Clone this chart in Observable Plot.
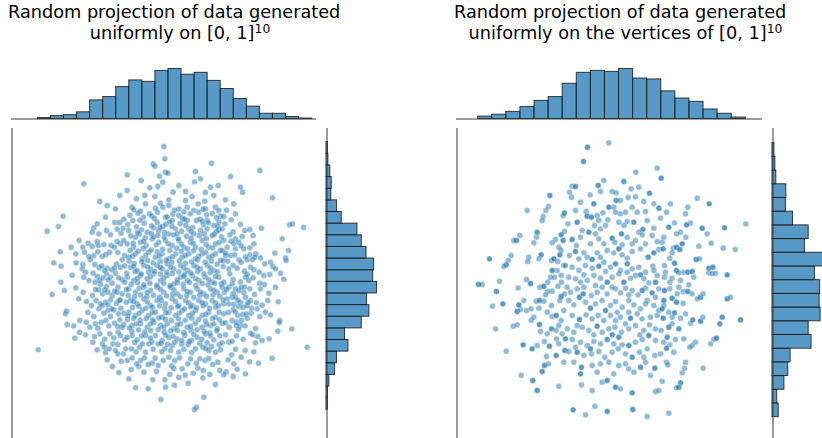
<!DOCTYPE html>
<html><head><meta charset="utf-8">
<script src="https://cdn.jsdelivr.net/npm/d3@7"></script>
<script src="https://cdn.jsdelivr.net/npm/@observablehq/plot@0.6"></script>
<style>
body{margin:0;background:#fff;}
#root{position:relative;width:822px;height:438px;overflow:hidden;background:#fff;font-family:"DejaVu Sans",sans-serif;}
.title{position:absolute;white-space:nowrap;font-size:17.7px;line-height:21.2px;color:#000;transform:translateX(-50%);}
.sup{position:relative;top:-0.5em;font-size:0.7em;}
.panel{position:absolute;}
.panel svg{max-width:none !important;}
</style></head><body><div id="root"></div>
<script>
// ---------- titles ----------
const titleLine1 = "Random projection of data generated";
const cubeTitle2 = "uniformly on [0, 1]";
const vertexTitle2 = "uniformly on the vertices of [0, 1]";
const dimension = "10";

// ---------- left: uniform on the cube, projected (arbitrary units) ----------
const cubePoints = [
[16.0,-13.0],[26.8,-16.5],[20.8,-18.3],[9.8,-22.7],[8.4,-25.8],[5.0,-27.2],[19.0,-26.2],[20.0,-25.0],[18.5,-27.5],[25.3,-24.6],[26.8,-24.6],[27.8,-26.3],[26.0,-26.6],[24.0,-28.3],[14.6,-30.0],[17.3,-30.8],[15.7,-32.0],[20.0,-30.3],[20.3,-31.5],[12.2,-32.0],[13.6,-34.0],[8.9,-33.4],[16.2,-33.5],[19.0,-34.5],[21.5,-34.8],[23.7,-33.5],[24.2,-31.5],[25.2,-32.0],[27.0,-31.0],[28.0,-30.0],[7.0,-36.7],[9.2,-37.7],[13.7,-36.7],[15.7,-37.2],[18.0,-35.7],[15.5,-38.5],[16.5,-39.5],[20.6,-38.2],[21.4,-37.6],[23.0,-38.3],[24.4,-38.8],[25.8,-37.0],[27.5,-35.8],[28.2,-34.5],[27.0,-38.0],[12.5,-40.4],[16.0,-41.0],[18.8,-39.8],[20.0,-40.8],[21.8,-41.2],[22.8,-40.0],[24.0,-41.0],[25.5,-39.8],[9.1,-42.5],[13.6,-44.2],[19.4,-42.5],[21.0,-43.2],[22.8,-43.8],[24.5,-42.8],[26.2,-44.0],[27.5,-41.8],[10.2,-45.0],[6.5,-46.2],[14.5,-47.5],[18.6,-46.5],[20.5,-44.8],[21.6,-46.0],[23.2,-45.5],[24.5,-46.5],[26.0,-45.5],[27.5,-46.0],[19.7,-48.0],[21.0,-49.0],[22.5,-48.5],[24.0,-47.8],[25.8,-48.8],[27.0,-47.8],[10.5,-52.0],[10.8,-51.2],[19.0,-52.8],[20.5,-50.5],[21.5,-49.5],[23.2,-51.0],[25.0,-50.8],[26.4,-52.0],[28.0,-51.8],[11.0,-55.2],[14.8,-54.0],[16.7,-54.5],[19.5,-55.0],[21.2,-54.5],[22.6,-54.0],[24.0,-52.8],[25.2,-54.8],[26.8,-53.8],[28.0,-55.2],[14.7,-57.5],[13.3,-59.3],[20.8,-58.0],[23.8,-58.0],[26.3,-57.5],[27.5,-56.0],[18.7,-60.5],[21.6,-61.0],[22.2,-62.0],[24.7,-61.0],[26.2,-61.2],[28.3,-59.8],[2.3,-62.8],[22.5,-63.6],[26.2,-64.0],[27.9,-64.0],[24.6,-67.8],
[40.0,-1.8],[36.8,-7.0],[37.3,-7.7],[40.3,-5.5],[38.7,-10.7],[40.5,-9.5],[41.2,-9.8],[39.7,-12.5],[38.2,-13.8],[33.2,-12.0],[29.0,-10.3],[54.3,-6.8],[49.5,-9.3],[49.2,-12.4],[51.0,-11.5],[54.0,-14.0],[56.3,-13.5],[42.8,-15.5],[48.5,-16.8],[46.5,-18.0],[34.3,-16.5],[37.3,-16.8],[52.3,-18.2],[55.0,-16.5],[50.3,-19.0],[29.0,-15.0],[30.5,-20.0],[34.5,-19.0],[39.0,-18.8],[39.7,-20.0],[41.5,-19.5],[44.5,-20.5],[47.0,-20.0],[49.0,-21.0],[50.5,-21.5],[52.5,-20.5],[55.5,-20.0],[56.5,-21.0],[30.7,-24.0],[35.7,-22.0],[38.0,-24.5],[40.5,-23.0],[42.5,-24.0],[44.5,-22.5],[47.0,-24.0],[49.8,-24.0],[53.0,-24.0],[55.0,-25.5],[56.5,-24.5],[29.5,-27.0],[31.5,-29.0],[33.3,-26.8],[35.0,-27.5],[37.0,-26.2],[38.5,-27.0],[39.7,-25.8],[41.5,-28.0],[43.5,-26.5],[45.3,-27.2],[47.5,-26.5],[49.0,-28.0],[51.0,-27.0],[53.0,-26.5],[54.5,-28.5],[56.5,-26.8],[29.0,-31.0],[31.0,-32.0],[33.0,-30.5],[34.7,-31.5],[36.5,-29.5],[38.5,-30.5],[40.5,-30.0],[42.5,-31.5],[44.5,-30.0],[46.0,-32.0],[48.0,-30.5],[49.5,-32.0],[51.5,-30.0],[53.5,-32.0],[55.5,-31.0],[29.5,-35.0],[31.5,-34.0],[33.5,-35.5],[35.5,-33.5],[37.5,-35.0],[39.5,-34.0],[41.5,-35.5],[43.5,-34.0],[45.5,-35.0],[47.5,-34.0],[49.5,-35.5],[51.5,-34.0],[53.5,-35.0],[55.5,-34.0],[57.0,-36.0],[30.0,-38.0],[32.0,-39.0],[34.0,-37.5],[36.0,-38.5],[38.0,-37.5],[39.5,-38.5],[41.0,-37.0],[43.0,-38.5],[45.0,-37.5],[47.0,-39.0],[49.0,-37.5],[51.0,-38.5],[53.0,-37.5],[55.0,-39.0],[29.0,-41.0],[31.0,-42.0],[33.0,-40.5],[35.0,-41.5],[37.0,-40.0],[39.0,-42.0],[41.0,-40.5],[43.0,-43.0],[45.0,-41.0],[47.0,-42.0],[48.5,-40.5],[50.5,-42.0],[52.5,-41.0],[54.5,-42.5],[56.5,-41.0],[29.5,-44.5],[31.5,-45.5],[34.0,-44.0],[36.0,-45.0],[38.0,-44.0],[40.0,-45.5],[42.0,-44.0],[44.0,-46.0],[46.0,-44.5],[48.0,-45.5],[50.0,-44.5],[52.0,-46.0],[54.0,-44.5],[56.0,-45.5],[30.0,-48.0],[32.0,-49.0],[34.0,-47.5],[36.0,-49.5],[38.0,-48.0],[40.5,-49.0],[42.5,-47.5],[44.5,-49.5],[46.5,-48.0],[48.5,-49.5],[50.5,-48.0],[52.5,-49.0],[54.5,-48.0],[56.5,-49.5],[29.5,-51.5],[31.5,-52.5],[33.5,-51.0],[35.5,-52.5],[37.5,-51.5],[39.5,-53.0],[41.5,-51.5],[43.5,-52.5],[45.5,-51.0],[47.5,-52.5],[49.5,-51.0],[51.5,-52.5],[53.5,-51.5],[55.5,-53.0],[30.5,-55.5],[33.0,-55.0],[35.0,-56.0],[37.0,-54.5],[39.0,-55.5],[41.0,-55.0],[43.0,-56.5],[45.0,-55.0],[47.0,-56.0],[49.5,-54.8],[51.5,-56.0],[54.0,-55.5],[56.0,-56.5],[29.0,-59.0],[32.0,-59.8],[34.5,-58.5],[37.5,-58.5],[39.5,-60.0],[41.5,-59.0],[44.0,-59.5],[46.3,-58.5],[48.3,-60.0],[50.0,-59.0],[52.5,-58.0],[55.0,-59.8],[30.3,-62.5],[32.7,-62.0],[35.5,-61.0],[38.3,-61.0],[40.3,-62.5],[42.5,-61.5],[44.5,-63.5],[47.3,-61.2],[49.5,-62.5],[51.7,-62.0],[53.5,-63.0],[55.5,-63.5],[34.5,-63.5],[33.0,-66.0],[35.3,-67.2],[36.5,-66.8],[38.3,-67.5],[41.5,-65.0],[43.3,-66.0],[45.5,-68.5],[48.0,-65.5],[49.8,-66.8],[52.3,-66.0],[54.7,-67.2],[32.5,-67.8],[29.0,-66.0],[29.5,-71.5],[36.7,-71.8],[40.3,-71.8],[40.5,-74.0],[44.5,-71.0],[48.8,-69.8],[51.8,-69.0],[47.3,-72.8],[51.7,-71.2],[35.3,-74.5],[39.1,-77.7],[52.0,-77.0],[49.8,-80.0],[49.2,-80.7],
[29.8,-22.4],[32.2,-21.8],[33.9,-23.0],[36.4,-22.6],[38.1,-21.5],[41.0,-22.9],[42.7,-22.1],[45.6,-23.3],[47.9,-22.0],[50.8,-23.6],[52.9,-22.3],[54.6,-21.9],[57.0,-22.7],
[29.2,-25.2],[31.8,-25.9],[34.1,-24.8],[36.3,-25.6],[38.9,-26.0],[40.6,-25.1],[42.4,-25.7],[44.9,-24.9],[46.6,-25.4],[48.7,-26.1],[51.9,-25.3],[53.4,-24.7],[56.2,-25.8],
[30.1,-28.6],[32.6,-28.1],[34.4,-29.2],[36.9,-28.9],[38.2,-28.4],[40.1,-29.0],[42.9,-28.3],[44.3,-29.5],[46.8,-28.7],[48.2,-29.3],[50.6,-28.5],[52.7,-29.4],[55.1,-28.2],[57.3,-28.9],
[29.9,-32.9],[32.3,-33.2],[33.8,-32.4],[36.2,-32.8],[38.0,-33.4],[39.6,-32.6],[41.8,-33.0],[43.9,-32.3],[45.2,-33.3],[47.1,-32.5],[48.9,-33.1],[51.2,-32.7],[52.6,-33.5],[54.7,-32.2],[56.9,-33.0],
[29.6,-36.2],[31.1,-36.9],[33.4,-36.4],[35.1,-36.0],[36.8,-36.7],[38.9,-36.3],[40.7,-35.9],[42.4,-36.6],[44.6,-36.1],[46.5,-36.8],[48.3,-36.4],[50.1,-35.8],[52.4,-36.5],[54.3,-36.2],[56.0,-37.1],
[28.9,-39.8],[31.4,-39.3],[33.2,-40.0],[35.4,-39.6],[37.2,-39.2],[39.0,-40.1],[40.9,-39.5],[42.6,-39.9],[44.5,-39.4],[46.2,-40.2],[48.1,-39.7],[50.2,-39.3],[52.0,-40.0],[53.9,-39.6],[56.1,-39.4],
[30.2,-43.1],[32.1,-42.6],[34.0,-43.3],[35.8,-42.8],[37.9,-43.4],[40.0,-42.9],[41.9,-43.6],[44.0,-42.7],[45.8,-43.2],[47.7,-42.5],[49.6,-43.5],[51.5,-42.9],[53.2,-43.3],[55.3,-42.8],[57.2,-43.0],
[29.3,-46.5],[31.2,-46.9],[33.0,-46.3],[34.9,-46.8],[36.9,-46.4],[38.8,-47.0],[40.9,-46.6],[42.7,-46.2],[45.0,-46.9],[46.9,-46.5],[49.0,-47.1],[50.8,-46.4],[52.8,-46.8],[54.8,-46.3],[56.8,-46.7],
[30.6,-50.1],[32.5,-49.7],[34.6,-50.3],[36.6,-50.0],[38.7,-49.6],[40.3,-50.4],[42.2,-50.2],[44.2,-49.8],[46.2,-50.5],[48.0,-49.9],[49.8,-50.2],[51.8,-49.6],[53.7,-50.3],[55.6,-50.0],
[29.1,-53.7],[31.0,-53.3],[32.9,-53.9],[34.7,-53.4],[36.7,-53.8],[38.5,-53.2],[40.5,-53.6],[42.3,-54.0],[44.4,-53.5],[46.4,-53.9],[48.4,-53.3],[50.5,-53.7],[52.5,-54.1],[54.6,-53.4],[56.7,-53.8],
[30.4,-57.2],[32.4,-56.8],[34.3,-57.4],[36.1,-57.0],[38.3,-56.7],[40.1,-57.5],[42.0,-57.1],[44.1,-56.9],[46.0,-57.6],[48.2,-57.0],[50.0,-56.8],[52.1,-57.3],[53.8,-57.7],[55.9,-57.1],
[31.3,-60.6],[33.6,-61.0],[36.4,-60.4],[39.2,-60.8],[41.1,-61.2],[43.3,-60.5],[45.4,-61.1],[47.6,-60.3],[50.8,-60.9],[53.0,-60.7],[56.6,-61.3],
[68.8,-9.0],[60.0,-10.8],[63.0,-14.0],[63.6,-15.5],[72.6,-17.2],[58.0,-22.8],[58.3,-25.0],[57.5,-26.5],[64.3,-27.0],[65.8,-26.7],[69.3,-26.3],[77.7,-25.3],[78.6,-25.0],[81.9,-26.1],[75.5,-29.5],[59.8,-28.3],[63.5,-28.8],[61.5,-29.5],[58.0,-30.0],[59.0,-32.0],[61.0,-31.0],[62.5,-30.5],[64.0,-32.5],[65.8,-32.2],[57.5,-33.0],[58.5,-34.5],[60.0,-34.5],[61.5,-32.5],[73.3,-33.8],[77.4,-33.0],[67.6,-34.0],[65.8,-34.3],[57.8,-36.0],[59.2,-36.2],[62.5,-35.8],[63.2,-36.5],[65.0,-35.8],[66.6,-35.8],[67.3,-35.0],[70.3,-37.0],[72.0,-36.5],[72.7,-37.8],[73.5,-38.5],[76.5,-35.2],[76.7,-36.0],[75.0,-39.8],[76.0,-41.6],[59.5,-38.5],[60.8,-37.5],[66.0,-38.0],[67.0,-38.8],[58.0,-42.5],[59.8,-40.0],[64.5,-41.0],[65.0,-40.2],[65.5,-42.0],[70.0,-40.5],[70.2,-43.2],[73.5,-44.0],[57.5,-44.0],[58.2,-45.5],[59.5,-44.0],[60.5,-43.0],[61.5,-44.5],[62.5,-45.0],[63.2,-44.0],[64.2,-44.0],[65.8,-44.5],[67.2,-46.2],[59.0,-47.5],[60.5,-47.0],[61.5,-47.0],[63.0,-48.5],[64.5,-47.0],[66.0,-48.0],[67.8,-48.7],[71.2,-48.0],[74.3,-48.4],[58.0,-49.0],[59.5,-49.0],[61.0,-49.2],[62.5,-49.8],[63.8,-50.0],[65.0,-49.5],[66.3,-50.3],[68.0,-50.5],[70.5,-51.5],[60.8,-50.8],[62.2,-52.5],[63.7,-52.2],[64.8,-52.0],[58.0,-52.0],[57.5,-54.8],[58.5,-54.7],[60.5,-54.0],[61.8,-54.5],[63.0,-55.5],[65.0,-53.3],[61.8,-55.5],[63.3,-54.0],[74.8,-54.0],[74.6,-54.6],[74.2,-57.2],[78.4,-56.5],[66.0,-57.8],[66.7,-58.3],[69.5,-60.0],[67.5,-60.7],[71.6,-59.5],[58.5,-58.3],[59.5,-60.5],[60.5,-60.2],[57.5,-60.7],[83.0,-62.0],[60.3,-64.3],[63.2,-65.0],[65.7,-66.4],[72.5,-65.3],[62.0,-68.6],[64.5,-70.0],[58.7,-69.4],[58.0,-70.3],
[31.0,-20.8],[33.0,-21.2],[37.5,-20.3],[43.2,-20.9],[46.0,-21.4],[51.8,-20.6],[58.8,-20.9],[61.5,-22.0],
[22.5,-23.0],[28.0,-23.6],[32.8,-23.9],[37.2,-23.4],[41.8,-24.4],[46.2,-23.6],[51.5,-24.2],[55.8,-23.2],[60.2,-23.8],[63.0,-25.2],
[20.5,-28.0],[22.8,-27.0],[27.2,-27.8],[32.2,-27.6],[36.2,-27.9],[40.2,-27.6],[44.0,-28.0],[48.2,-27.4],[52.1,-27.9],[55.8,-27.3],[60.8,-27.4],[66.8,-28.5],
[18.5,-31.8],[22.0,-31.2],[26.0,-30.3],[30.8,-30.8],[34.0,-30.2],[37.7,-31.3],[41.4,-31.0],[45.3,-31.1],[48.8,-30.9],[52.7,-31.2],[56.6,-30.6],[60.2,-30.2],[63.2,-31.6],[67.0,-31.0],
[17.5,-34.8],[20.2,-33.4],[22.6,-34.2],[26.2,-33.6],[30.6,-34.7],[34.6,-34.4],[38.6,-34.6],[42.5,-34.9],[46.5,-34.5],[50.5,-34.7],[54.6,-34.6],[58.5,-33.8],[61.3,-34.3],[64.5,-34.9],[69.0,-35.2],
[19.3,-37.2],[22.2,-39.0],[25.2,-38.2],[28.2,-37.6],[31.0,-37.7],[35.1,-37.9],[38.9,-38.0],[42.0,-38.0],[46.0,-38.2],[50.0,-38.0],[54.0,-38.2],[57.8,-37.8],[62.0,-38.3],[64.2,-39.2],[68.6,-39.5],[71.8,-40.2],
[17.5,-42.0],[20.8,-41.9],[23.3,-41.8],[26.5,-41.2],[28.3,-42.5],[32.0,-41.3],[36.0,-40.9],[40.0,-41.3],[44.0,-41.8],[46.0,-40.7],[49.5,-41.5],[53.5,-41.8],[55.5,-40.8],[60.8,-41.7],[63.0,-42.4],[66.8,-41.2],[68.8,-42.8],
[15.8,-45.5],[19.5,-44.7],[22.3,-44.8],[25.3,-45.2],[28.8,-44.7],[32.6,-44.3],[35.0,-45.6],[39.0,-44.6],[43.0,-44.8],[47.0,-45.3],[51.0,-45.4],[55.0,-44.9],[58.8,-44.6],[60.8,-45.8],[64.0,-45.6],[69.0,-44.5],[71.5,-45.8],
[16.8,-48.3],[18.3,-49.5],[23.2,-49.3],[26.6,-48.0],[28.7,-48.5],[31.0,-48.3],[35.0,-48.4],[39.2,-48.0],[43.5,-48.3],[47.4,-48.7],[51.5,-48.6],[55.5,-48.7],[57.8,-47.8],[62.2,-48.0],[65.3,-48.6],[69.5,-49.4],
[17.2,-51.6],[22.0,-51.8],[24.4,-50.5],[27.1,-50.3],[29.2,-52.6],[32.6,-51.8],[36.6,-51.6],[40.6,-51.7],[44.6,-51.8],[48.6,-51.9],[52.6,-52.2],[56.6,-51.5],[59.3,-51.6],[61.4,-51.4],[66.2,-51.8],[68.8,-52.8],[72.0,-52.3],
[13.0,-55.6],[17.8,-56.0],[20.2,-56.3],[23.5,-55.6],[26.2,-55.8],[29.7,-56.2],[31.8,-55.0],[36.0,-55.0],[40.0,-56.0],[44.0,-55.3],[48.0,-55.7],[52.8,-55.2],[55.0,-55.0],[59.6,-56.0],[62.4,-56.6],[64.4,-55.6],[67.5,-56.4],
[16.5,-58.3],[19.2,-58.8],[22.3,-59.6],[25.0,-59.2],[27.0,-58.5],[30.5,-58.5],[33.3,-58.6],[36.0,-59.3],[40.6,-58.4],[42.8,-58.7],[45.4,-60.0],[49.0,-58.2],[51.4,-59.6],[54.0,-58.6],[56.8,-58.6],[61.8,-58.6],[63.8,-59.6],[68.2,-58.8],
[20.0,-62.8],[23.6,-62.5],[25.5,-63.0],[28.6,-62.5],[31.7,-63.4],[36.8,-62.6],[39.4,-63.4],[42.0,-63.0],[46.0,-62.6],[48.4,-63.6],[52.6,-62.4],[54.3,-61.8],[57.0,-62.8],[61.5,-62.6],[64.4,-63.0],[67.0,-63.4],
[23.0,-65.8],[27.2,-66.2],[30.5,-65.2],[31.8,-67.0],[34.2,-65.2],[37.4,-65.3],[39.8,-66.0],[42.3,-67.6],[44.7,-65.2],[47.2,-67.0],[50.8,-65.5],[53.5,-65.4],[56.2,-66.5],[59.3,-65.8],[61.0,-67.0],[68.4,-66.8],
[26.5,-69.6],[30.2,-68.7],[34.0,-69.5],[37.8,-69.3],[41.8,-70.2],[43.0,-68.4],[46.4,-70.4],[50.2,-68.3],[53.8,-70.2],[56.8,-69.0],[60.8,-70.8],
[43.2,-73.4],[31.5,-74.2],[55.5,-73.2],
[31.8,-17.5],[35.8,-14.2],[44.5,-13.5],[46.5,-15.3],[52.5,-15.6],[58.5,-17.8],[25.5,-20.5],[23.0,-19.5],[61.0,-19.0],[41.5,-17.8]
];

// ---------- right: uniform on the vertices, projected; n = samples sharing a vertex ----------
const vertexPoints = [
[23.8,-18.0,2],[17.0,-22.5,1],[23.4,-21.3,1],[22.6,-22.5,1],[21.8,-24.3,1],[21.5,-25.5,1],[28.2,-23.2,2],[27.8,-24.0,1],[20.0,-29.0,2],[19.8,-30.5,1],[19.0,-32.2,1],[14.8,-30.0,1],[13.8,-31.5,2],[13.0,-31.5,1],[24.5,-32.2,1],[25.5,-31.2,1],[27.2,-29.8,2],[27.8,-31.5,2],[28.2,-28.8,1],[5.7,-37.0,2],[12.2,-36.0,1],[11.3,-37.5,1],[10.7,-38.8,2],[10.0,-39.3,1],[17.5,-36.5,1],[17.2,-37.8,1],[21.2,-35.8,2],[20.5,-37.0,1],[24.3,-37.5,1],[25.0,-37.0,2],[26.2,-37.8,1],[26.8,-35.8,2],[27.2,-34.5,1],[28.0,-39.0,1],[2.4,-44.7,2],[3.5,-44.7,1],[8.7,-43.7,1],[7.8,-46.8,2],[16.8,-43.2,1],[18.0,-44.4,2],[14.3,-45.7,1],[20.8,-45.5,1],[22.0,-45.2,2],[23.2,-44.0,1],[24.0,-42.5,1],[25.2,-42.5,1],[24.5,-46.7,1],[23.2,-46.8,1],[26.2,-45.2,1],[27.3,-44.0,1],[27.2,-48.3,2],[28.2,-47.5,1],[6.6,-51.2,1],[9.7,-50.5,2],[14.0,-52.8,2],[15.0,-52.2,1],[14.5,-50.8,2],[16.0,-49.5,1],[16.8,-52.5,1],[18.2,-52.0,1],[19.7,-49.7,1],[20.7,-49.5,2],[22.0,-49.7,1],[20.5,-51.8,1],[24.3,-51.0,1],[26.8,-49.5,1],[7.5,-58.0,1],[12.8,-57.2,1],[14.0,-56.8,1],[18.2,-55.4,1],[20.7,-56.7,2],[21.0,-58.8,1],[24.3,-58.0,2],[25.7,-58.5,1],[26.5,-57.0,1],[24.5,-54.3,1],[25.7,-54.0,2],[27.2,-55.5,1],[10.7,-64.7,1],[15.8,-62.8,2],[18.5,-64.0,2],[22.2,-61.8,1],[23.7,-63.2,2],[25.8,-61.0,1],[28.3,-64.5,2],[22.8,-66.3,1],[25.7,-66.0,2],[22.2,-69.0,2],[23.4,-68.5,1],[21.5,-70.8,2],[15.2,-71.9,1],[18.7,-73.5,2],[20.0,-76.5,2],[26.5,-75.2,1],
[41.5,-2.2,1],[35.1,-3.5,2],[33.9,-7.8,2],[49.6,-11.0,1],[56.0,-9.8,1],[38.3,-15.0,2],[30.5,-15.2,1],[31.5,-15.3,2],[29.7,-17.0,1],[30.3,-18.5,1],[35.9,-17.8,1],[39.0,-16.8,1],[42.5,-16.8,1],[43.7,-17.2,1],[43.7,-19.5,2],[47.3,-18.6,1],[48.2,-16.0,1],[49.5,-18.4,1],[50.5,-15.5,1],[53.7,-17.3,2],[55.0,-20.5,1],[56.5,-21.8,2],[31.5,-22.5,1],[34.7,-22.8,1],[35.0,-24.2,2],[36.3,-24.5,2],[38.0,-24.0,1],[38.5,-25.5,1],[39.7,-23.2,1],[41.5,-21.5,2],[43.0,-21.5,1],[43.5,-23.0,1],[45.0,-23.5,1],[46.5,-23.0,1],[47.0,-25.8,1],[46.0,-27.0,1],[48.5,-21.5,1],[50.0,-23.0,1],[52.5,-22.8,1],[51.7,-28.2,2],[55.0,-27.8,1],[50.5,-29.0,1],[30.5,-31.2,2],[33.0,-30.5,1],[33.5,-28.5,1],[35.5,-29.0,2],[37.5,-29.5,1],[39.0,-28.0,1],[40.5,-27.0,1],[36.0,-32.5,1],[38.5,-31.0,1],[42.5,-30.8,2],[43.3,-32.0,1],[45.3,-29.5,2],[47.0,-30.5,1],[48.5,-32.5,1],[49.5,-31.5,1],[51.5,-29.8,1],[54.5,-30.0,1],[56.0,-31.8,1],[29.7,-36.0,1],[31.5,-34.8,2],[32.5,-37.0,1],[34.0,-35.2,1],[35.0,-36.5,1],[36.5,-37.2,2],[38.0,-35.2,1],[39.0,-36.5,1],[41.0,-34.5,1],[43.0,-35.2,1],[44.5,-34.0,2],[45.5,-35.8,1],[47.0,-36.8,1],[48.5,-34.8,1],[51.0,-34.0,1],[53.3,-36.5,2],[55.0,-35.2,2],[56.5,-34.2,1],[28.5,-39.0,1],[30.5,-39.5,1],[32.5,-40.5,1],[34.5,-39.0,1],[36.5,-39.8,1],[38.5,-39.2,2],[40.0,-38.0,1],[42.0,-39.5,1],[43.5,-38.5,2],[45.0,-40.5,1],[47.0,-38.5,2],[48.5,-40.0,1],[50.5,-39.5,1],[52.5,-41.0,1],[54.7,-39.2,1],[56.0,-42.0,1],[29.5,-42.5,1],[31.5,-43.0,1],[33.0,-44.0,1],[35.0,-43.5,1],[37.0,-42.0,1],[39.0,-42.8,1],[41.0,-44.0,2],[42.5,-42.5,1],[44.5,-41.5,1],[46.0,-44.0,2],[48.0,-42.8,1],[49.5,-42.0,1],[52.0,-43.0,1],[53.5,-44.2,1],[55.5,-44.0,2],[30.0,-47.0,1],[32.0,-46.0,1],[34.0,-45.5,1],[36.3,-48.0,1],[38.0,-47.0,1],[39.5,-45.5,1],[41.0,-47.5,1],[43.5,-46.0,1],[45.0,-47.2,1],[46.5,-45.8,1],[48.5,-46.5,1],[50.3,-47.8,1],[52.5,-45.8,1],[54.5,-47.2,2],[56.5,-46.0,1],[29.5,-49.5,1],[32.7,-48.5,2],[34.5,-50.0,1],[36.0,-51.8,2],[37.5,-50.5,1],[39.5,-49.5,1],[42.0,-51.0,1],[43.5,-49.8,1],[45.5,-51.5,1],[47.5,-49.5,1],[49.0,-50.8,1],[51.0,-52.0,1],[53.0,-49.5,1],[55.0,-51.0,1],[56.5,-52.5,1],[30.5,-54.0,1],[32.7,-55.2,2],[34.7,-53.8,1],[36.5,-55.0,1],[38.3,-54.0,1],[40.0,-55.5,1],[42.0,-54.0,1],[43.5,-55.5,1],[45.0,-54.5,1],[48.0,-54.8,2],[50.0,-53.5,1],[51.5,-55.0,1],[54.0,-54.5,1],[56.0,-54.0,1],[29.0,-58.0,1],[31.0,-59.0,1],[33.5,-57.5,1],[35.5,-58.5,1],[38.0,-57.2,2],[39.5,-59.0,1],[41.5,-58.0,1],[43.3,-57.5,1],[45.3,-59.0,1],[47.5,-58.0,1],[49.5,-57.0,1],[52.0,-58.5,1],[53.7,-56.8,1],[55.5,-58.0,1],[28.5,-61.0,2],[30.5,-61.2,1],[33.0,-62.0,1],[35.0,-63.0,1],[37.0,-61.8,1],[39.0,-62.5,1],[41.0,-61.2,2],[43.0,-62.5,1],[44.5,-60.5,2],[47.5,-63.0,2],[49.5,-62.0,1],[51.5,-61.2,1],[53.5,-60.0,2],[55.5,-61.5,1],[29.5,-64.8,1],[32.0,-65.0,2],[34.0,-66.0,1],[36.3,-65.5,1],[38.5,-64.8,1],[40.3,-66.5,1],[42.5,-65.0,1],[44.3,-64.0,1],[46.5,-65.5,1],[48.5,-66.5,2],[50.7,-65.0,1],[53.0,-64.0,1],[55.3,-66.0,1],[33.3,-69.5,2],[36.5,-69.0,1],[39.0,-68.5,1],[41.5,-68.0,1],[44.5,-69.0,1],[46.5,-68.5,1],[49.0,-71.0,1],[51.0,-69.5,2],[52.5,-68.0,1],[55.3,-69.8,2],[33.0,-71.5,2],[33.3,-74.8,1],[36.5,-76.5,1],[39.5,-74.0,1],[41.0,-73.5,2],[43.5,-75.5,2],[45.0,-76.0,1],[48.5,-77.2,2],[55.5,-76.8,1],[56.5,-76.5,1],[30.8,-82.3,2],[34.5,-83.8,1],[37.3,-81.2,1],[41.0,-82.8,2],[48.7,-82.2,2],[53.0,-84.3,1],
[57.2,-12.8,2],[68.0,-18.8,1],[71.6,-20.5,2],[65.2,-21.5,1],[64.5,-23.5,1],[57.0,-24.8,1],[61.2,-26.2,1],[66.0,-26.3,1],[64.8,-26.8,2],[69.5,-27.8,2],[76.2,-27.7,2],[82.6,-26.5,1],[59.5,-27.5,2],[71.0,-29.5,1],[61.8,-29.5,1],[63.0,-29.0,1],[64.6,-30.5,1],[58.0,-30.5,1],[72.2,-32.3,1],[68.5,-33.2,1],[75.8,-33.8,1],[79.4,-34.2,1],[60.8,-33.8,1],[61.8,-33.5,2],[62.8,-34.2,2],[60.5,-35.2,1],[57.8,-34.0,2],[59.8,-36.8,1],[61.2,-38.3,2],[67.7,-37.2,2],[68.7,-37.0,1],[71.5,-39.8,2],[72.7,-39.5,2],[58.2,-39.0,1],[61.8,-40.5,2],[62.5,-41.2,1],[64.0,-41.0,1],[65.2,-41.0,2],[66.5,-40.8,2],[71.5,-41.2,1],[72.5,-41.5,1],[73.5,-41.3,1],[77.0,-41.8,2],[58.5,-41.0,1],[58.2,-42.5,1],[67.0,-42.5,1],[59.8,-44.0,1],[65.5,-44.8,1],[58.2,-46.5,2],[62.5,-45.5,1],[63.8,-46.8,1],[65.2,-46.8,2],[66.5,-47.5,1],[69.0,-48.5,2],[69.8,-47.5,1],[68.0,-49.0,1],[58.0,-49.5,2],[60.5,-48.8,2],[61.8,-50.0,2],[63.8,-50.3,1],[77.0,-49.0,2],[78.0,-48.5,1],[57.5,-52.0,2],[59.5,-53.0,1],[61.2,-53.2,2],[60.5,-54.5,1],[63.0,-54.8,1],[57.8,-54.8,2],[66.7,-55.3,2],[69.0,-55.7,2],[69.7,-54.5,1],[75.5,-54.5,2],[74.8,-56.5,2],[81.0,-55.3,2],[66.0,-56.3,1],[59.5,-57.5,2],[60.5,-56.5,1],[59.0,-60.5,2],[61.5,-61.2,1],[58.0,-62.0,1],[59.8,-62.8,1],[58.8,-63.8,2],[67.5,-62.0,1],[66.5,-63.0,1],[65.8,-63.5,1],[73.0,-61.2,1],[73.8,-60.8,2],[72.0,-62.5,1],[58.8,-68.0,1],[59.2,-68.8,1],[64.5,-68.0,1],[64.2,-69.8,1],[63.5,-71.2,1],[69.8,-69.8,1],[57.5,-73.7,1],[63.0,-74.2,2],[62.5,-75.5,2],[61.8,-75.7,1],[59.5,-83.3,1],
[26.0,-40.5,1],[29.2,-26.5,1],[32.0,-26.0,2],[37.2,-27.0,1],[41.2,-25.3,1],[44.5,-26.0,1],[49.0,-26.0,2],[53.0,-25.5,1],[58.8,-23.0,1],
[26.5,-33.5,1],[31.8,-33.0,1],[40.0,-32.5,1],[45.5,-32.8,1],[52.5,-32.5,1],[57.5,-32.0,1],[63.5,-32.5,2],
[24.5,-40.5,2],[27.2,-42.0,1],[34.0,-41.8,1],[40.5,-40.8,1],[47.0,-41.0,1],[51.0,-41.8,2],[55.0,-40.5,1],[60.5,-42.8,1],[63.0,-43.5,1],
[22.5,-47.8,1],[29.0,-45.5,1],[33.8,-47.5,2],[37.5,-45.0,1],[42.5,-45.5,1],[47.5,-47.8,1],[51.5,-46.5,2],[55.5,-48.5,1],[59.8,-46.0,1],[62.0,-47.5,1],
[19.0,-54.5,1],[23.0,-53.0,1],[28.0,-52.5,1],[31.0,-50.8,1],[40.5,-52.5,2],[44.0,-53.0,1],[47.5,-53.0,1],[52.5,-50.5,1],[58.0,-51.0,1],[64.5,-53.5,1],
[23.0,-59.5,1],[27.5,-59.5,1],[32.0,-57.0,1],[37.0,-59.8,1],[42.5,-59.8,2],[46.5,-56.5,1],[50.8,-59.8,1],[57.2,-58.5,1],[62.5,-58.0,2],[64.0,-61.0,1],
[20.0,-63.0,1],[26.5,-62.5,1],[31.5,-63.5,1],[36.0,-64.0,2],[45.5,-62.8,1],[52.0,-66.5,1],[57.0,-65.5,1],[61.0,-65.0,1],
[28.0,-68.0,1],[31.0,-68.0,1],[38.0,-71.0,1],[43.0,-71.5,1],[47.5,-70.0,1],[54.0,-72.0,1],
[33.0,-20.0,1],[37.0,-20.5,2],[45.0,-19.5,1],[52.0,-19.8,1],[60.0,-20.5,1],[40.0,-13.5,1],[46.0,-13.8,2]
];

// ---------- marginal histograms (counts, bins in the same units) ----------
const cubeTopBins = {start: 2.2, width: 3.919};
const cubeTopCounts = [2, 6, 8, 14, 39, 46, 67, 81, 78, 101, 105, 93, 97, 80, 63, 42, 26, 11, 11, 4, 1];
const cubeSideBins = {start: -80.8, width: 3.491};
const cubeSideCounts = [3, 3, 6, 18, 22, 46, 39, 74, 90, 85, 106, 98, 100, 84, 74, 65, 32, 22, 10, 11, 8, 4, 3];
const vertexTopBins = {start: 2.3, width: 4.226};
const vertexTopCounts = [5, 9, 15, 25, 38, 46, 74, 97, 101, 99, 105, 85, 83, 58, 43, 36, 20, 11, 3];
const vertexSideBins = {start: -84.5, width: 4.11};
const vertexSideCounts = [13, 10, 25, 33, 38, 82, 76, 101, 99, 100, 89, 111, 68, 76, 43, 28, 29, 8, 6, 4];

const cubeX = [-5.7, 85.8], cubeY = [-89.4, 3.6];
const vertexX = [-4.2, 87.6], vertexY = [-90.9, 2.1];
const countMax = 105;

const BLUE = "#1f77b4", EDGE = "#1c1c1c", SPINE = "#3a3a3a";
const root = document.getElementById("root");
function place(node, left, top) {
  const d = document.createElement("div");
  d.className = "panel"; d.style.left = left + "px"; d.style.top = top + "px";
  d.style.width = node.getAttribute("width") + "px";
  d.appendChild(node); root.appendChild(d);
}
function bins(spec, counts) {
  return counts.map((c, i) => ({lo: spec.start + i * spec.width, hi: spec.start + (i + 1) * spec.width, count: c}));
}
const baseStyle = {overflow: "visible", background: "none", maxWidth: "none"};

function joint(points, xd, yd, width, ml, mr, weighted) {
  return Plot.plot({
    width, height: 310, marginLeft: ml, marginRight: mr, marginTop: 0, marginBottom: 0,
    x: {domain: xd, axis: null}, y: {domain: yd, axis: null}, style: baseStyle,
    marks: [
      Plot.ruleX([xd[0]], {stroke: SPINE, strokeWidth: 1, dx: 0.5}),
      Plot.dot(points, {x: d => d[0], y: d => d[1], r: 2.9, fill: BLUE,
        fillOpacity: weighted ? d => 1 - Math.pow(0.5, d[2]) : 0.5,
        stroke: "white", strokeWidth: 0.5,
        strokeOpacity: weighted ? d => 1 - Math.pow(0.5, d[2]) : 0.5})
    ]
  });
}
function topHist(data, xd, width, ml, mr) {
  return Plot.plot({
    width, height: 59, marginLeft: ml, marginRight: mr, marginTop: 8.5, marginBottom: 0.5,
    x: {domain: xd, axis: null}, y: {domain: [0, countMax], axis: null}, style: baseStyle,
    marks: [
      Plot.rectY(data, {x1: "lo", x2: "hi", y: "count", fill: BLUE, fillOpacity: 0.75, stroke: EDGE, strokeOpacity: 0.85, strokeWidth: 1}),
      Plot.ruleY([0], {stroke: SPINE, strokeWidth: 1})
    ]
  });
}
function sideHist(data, yd, ml) {
  return Plot.plot({
    width: 80, height: 318, marginLeft: ml, marginRight: 80 - ml - 50, marginTop: 8, marginBottom: 0,
    x: {domain: [0, countMax], axis: null}, y: {domain: yd, axis: null}, style: baseStyle,
    marks: [
      Plot.rectX(data, {y1: "lo", y2: "hi", x: "count", fill: BLUE, fillOpacity: 0.75, stroke: EDGE, strokeOpacity: 0.85, strokeWidth: 1}),
      Plot.ruleX([0], {stroke: SPINE, strokeWidth: 1, dx: 0.5})
    ]
  });
}

// left panel
place(topHist(bins(cubeTopBins, cubeTopCounts), cubeX, 330, 11, 14), 0, 60);
place(joint(cubePoints, cubeX, cubeY, 330, 11, 14, false), 0, 128);
place(sideHist(bins(cubeSideBins, cubeSideCounts), cubeY, 6), 320, 120);
// right panel
place(topHist(bins(vertexTopBins, vertexTopCounts), vertexX, 340, 16, 18), 440, 60);
place(joint(vertexPoints, vertexX, vertexY, 340, 16, 18, true), 440, 128);
place(sideHist(bins(vertexSideBins, vertexSideCounts), vertexY, 12), 760, 120);

// titles
function title(html, center, baseline) {
  const d = document.createElement("div");
  d.className = "title"; d.innerHTML = html;
  d.style.left = center + "px"; d.style.top = (baseline - 16.7) + "px";
  root.appendChild(d);
}
title(titleLine1, 174.2, 18.3);
title(cubeTitle2 + '<span class="sup">' + dimension + '</span>', 180, 39.5);
title(titleLine1, 620.2, 18.3);
title(vertexTitle2 + '<span class="sup">' + dimension + '</span>', 625.5, 39.5);
</script></body></html>
